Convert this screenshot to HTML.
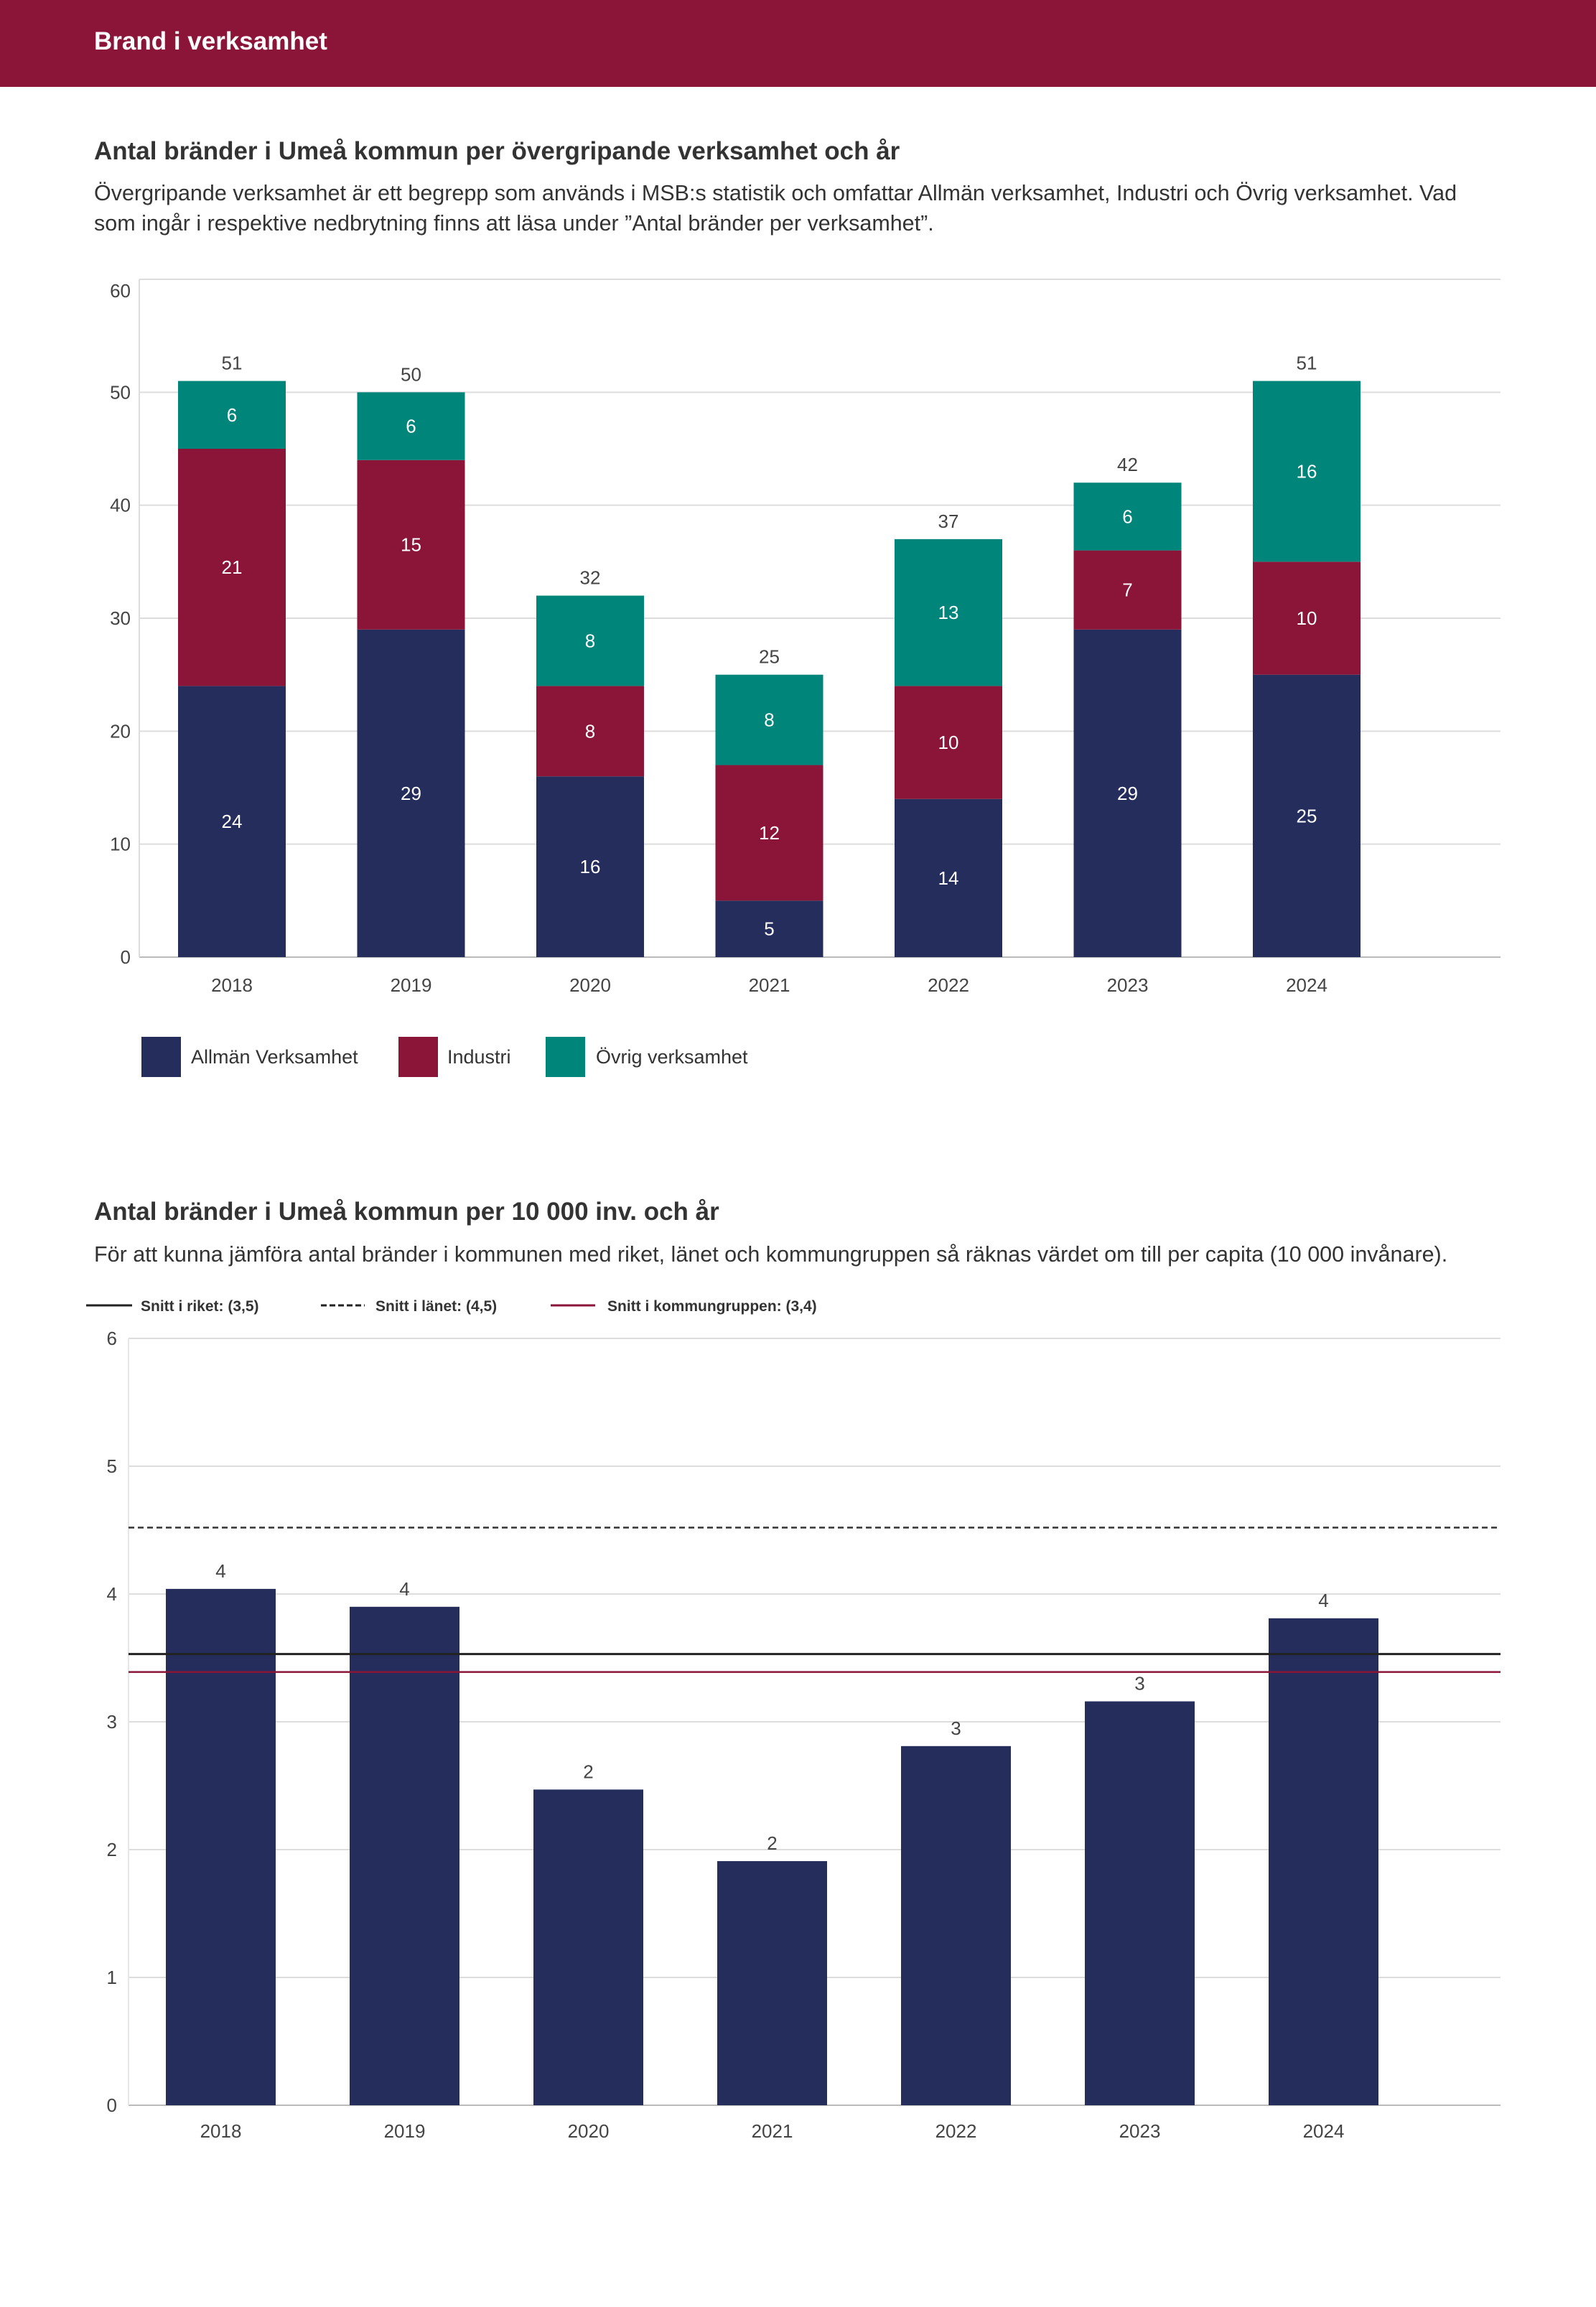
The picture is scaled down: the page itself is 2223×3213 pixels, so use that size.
<!DOCTYPE html>
<html><head><meta charset="utf-8"><style>
body{margin:0;background:#fff;}
svg{display:block;font-family:"Liberation Sans",sans-serif;}
</style></head><body>
<svg id="page" width="2223" height="3213" viewBox="0 0 2223 3213" xmlns="http://www.w3.org/2000/svg">
<rect x="0" y="0" width="2223" height="121" fill="#8b1538"/>
<text x="131" y="69" font-size="35" font-weight="bold" fill="#fff">Brand i verksamhet</text>
<text x="131" y="222" font-size="35" font-weight="bold" fill="#333">Antal bränder i Umeå kommun per övergripande verksamhet och år</text>
<text x="131" y="279" font-size="30.5" fill="#333">Övergripande verksamhet är ett begrepp som används i MSB:s statistik och omfattar Allmän verksamhet, Industri och Övrig verksamhet. Vad</text>
<text x="131" y="321" font-size="30.5" fill="#333">som ingår i respektive nedbrytning finns att läsa under ”Antal bränder per verksamhet”.</text>
<g id="chart1"></g>
<g id="legend1">
<rect x="197" y="1444" width="55" height="56" fill="#252d5c"/>
<text x="266" y="1481" font-size="27" fill="#333">Allmän Verksamhet</text>
<rect x="555" y="1444" width="55" height="56" fill="#8a1538"/>
<text x="623" y="1481" font-size="27" fill="#333">Industri</text>
<rect x="760" y="1444" width="55" height="56" fill="#00857a"/>
<text x="830" y="1481" font-size="27" fill="#333">Övrig verksamhet</text>
</g>
<text x="131" y="1699" font-size="35" font-weight="bold" fill="#333">Antal bränder i Umeå kommun per 10 000 inv. och år</text>
<text x="131" y="1757" font-size="30.5" fill="#333">För att kunna jämföra antal bränder i kommunen med riket, länet och kommungruppen så räknas värdet om till per capita (10 000 invånare).</text>
<g id="legend2">
<line x1="120" y1="1818" x2="184" y2="1818" stroke="#222" stroke-width="3"/>
<text x="196" y="1826" font-size="21" font-weight="bold" fill="#333">Snitt i riket: (3,5)</text>
<line x1="447" y1="1818" x2="508" y2="1818" stroke="#222" stroke-width="3" stroke-dasharray="8,4"/>
<text x="523" y="1826" font-size="21" font-weight="bold" fill="#333">Snitt i länet: (4,5)</text>
<line x1="767" y1="1818" x2="829" y2="1818" stroke="#8a1538" stroke-width="3"/>
<text x="846" y="1826" font-size="21" font-weight="bold" fill="#333">Snitt i kommungruppen: (3,4)</text>
</g>
<g id="chart2"></g>
</svg>
<script>
const years = ["2018","2019","2020","2021","2022","2023","2024"];
const allman = [24,29,16,5,14,29,25];
const industri = [21,15,8,12,10,7,10];
const ovrig = [6,6,8,8,13,6,16];
const ticks1 = [0,10,20,30,40,50,60];
const perCapita = [4.04,3.9,2.47,1.91,2.81,3.16,3.81];
const perCapitaLabels = ["4","4","2","2","3","3","4"];
const ticks2 = [0,1,2,3,4,5,6];
const snittRiket = 3.53;
const snittLanet = 4.52;
const snittKommungrupp = 3.39;

const NS="http://www.w3.org/2000/svg";
function mk(parent,tag,attrs,txt){const e=document.createElementNS(NS,tag);for(const k in attrs)e.setAttribute(k,attrs[k]);if(txt!==undefined)e.textContent=txt;parent.appendChild(e);return e;}

// chart 1
(function(){
const g=document.getElementById('chart1');
const x0=194,x1=2090,yb=1333,yt=389,max=60;
const y=v=>yb-(v/max)*(yb-yt);
const cx=i=>323+i*249.5;
const bw=150;
ticks1.forEach((t,k)=>{
 const l=mk(g,'line',{x1:x0,x2:x1,y1:y(t),y2:y(t),stroke:t===0?'#bbb':'#ddd','stroke-width':2});
 
 
 const off=(k===ticks1.length-1)?25:9;
 const tx=mk(g,'text',{x:182,y:y(t)+off,'font-size':26,fill:'#444','text-anchor':'end'},t);
 
 
});
const ax=mk(g,'line',{x1:x0,x2:x0,y1:yt,y2:yb,stroke:'#ddd','stroke-width':2});


const series=[[allman,'#252d5c','allman'],[industri,'#8a1538','industri'],[ovrig,'#00857a','ovrig']];
years.forEach((yr,i)=>{
 let base=0;
 series.forEach(([arr,col,nm])=>{
  const v=arr[i];
  const r=mk(g,'rect',{x:cx(i)-bw/2,y:y(base+v),width:bw,height:y(base)-y(base+v),fill:col});
  
  
  const t=mk(g,'text',{x:cx(i),y:(y(base)+y(base+v))/2+9,'font-size':26,fill:'#fff','text-anchor':'middle'},v);
  
  
  base+=v;
 });
 const tt=mk(g,'text',{x:cx(i),y:y(base)-16,'font-size':26,fill:'#444','text-anchor':'middle'},base);
 
 
 const xl=mk(g,'text',{x:cx(i),y:1381,'font-size':26,fill:'#444','text-anchor':'middle'},yr);
 
 
});
})();

// chart 2
(function(){
const g=document.getElementById('chart2');
const x0=179,x1=2090,yb=2932,yt=1864,max=6;
const y=v=>yb-(v/max)*(yb-yt);
const cx=i=>307.5+i*256;
const bw=153;
ticks2.forEach(t=>{
 const l=mk(g,'line',{x1:x0,x2:x1,y1:y(t),y2:y(t),stroke:t===0?'#bbb':'#ddd','stroke-width':2});
 
 
 const tx=mk(g,'text',{x:163,y:y(t)+9,'font-size':26,fill:'#444','text-anchor':'end'},t);
 
 
});
const ax=mk(g,'line',{x1:x0,x2:x0,y1:yt,y2:yb,stroke:'#e6e6e6','stroke-width':2});


years.forEach((yr,i)=>{
 const v=perCapita[i];
 const r=mk(g,'rect',{x:cx(i)-bw/2,y:y(v),width:bw,height:yb-y(v),fill:'#252d5c'});
 
 
 const t=mk(g,'text',{x:cx(i),y:y(v)-16,'font-size':26,fill:'#444','text-anchor':'middle'},perCapitaLabels[i]);
 
 
 const xl=mk(g,'text',{x:cx(i),y:2977,'font-size':26,fill:'#444','text-anchor':'middle'},yr);
 
 
});
const l1=mk(g,'line',{x1:x0,x2:x1,y1:y(snittLanet),y2:y(snittLanet),stroke:'#333','stroke-width':2.5,'stroke-dasharray':'8,5'});


const l2=mk(g,'line',{x1:x0,x2:x1,y1:y(snittRiket),y2:y(snittRiket),stroke:'#222','stroke-width':3});


const l3=mk(g,'line',{x1:x0,x2:x1,y1:y(snittKommungrupp),y2:y(snittKommungrupp),stroke:'#8a1538','stroke-width':2.5});


})();
</script>
</body></html>
